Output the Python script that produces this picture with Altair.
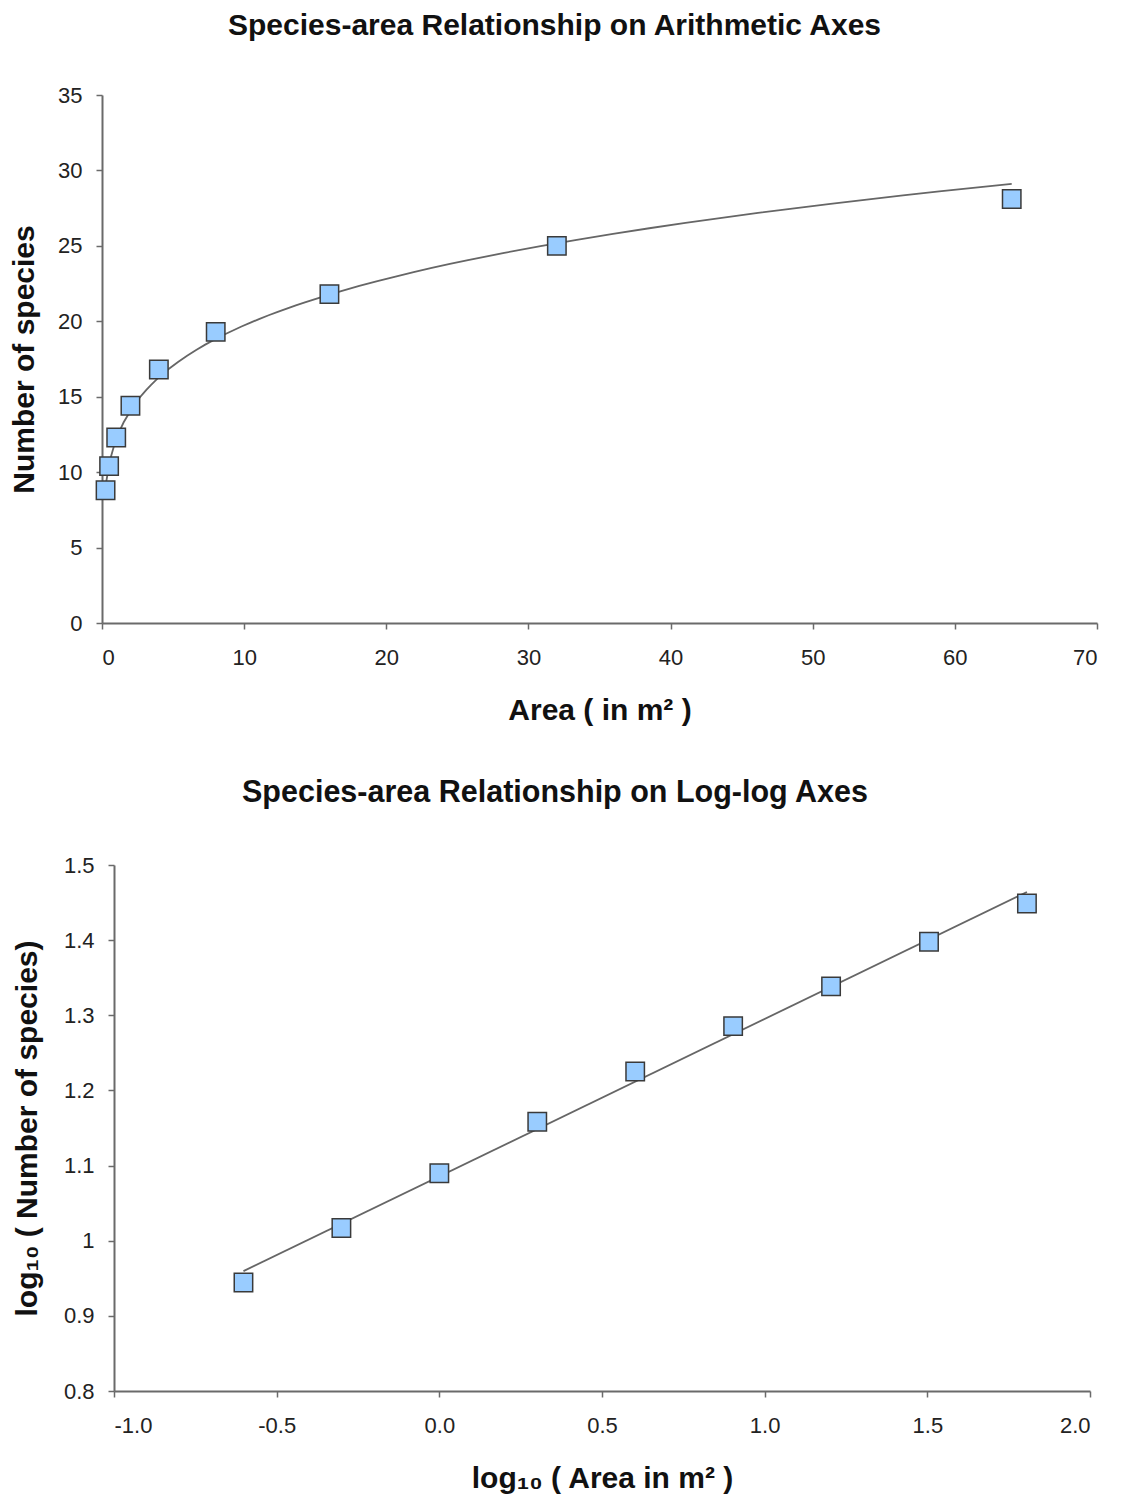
import altair as alt
import pandas as pd

# ---- data ----
area = [0.25, 0.5, 1, 2, 4, 8, 16, 32, 64]
species = [8.8, 10.4, 12.3, 14.4, 16.8, 19.3, 21.8, 25.0, 28.1]

top_x_ticks = [0, 10, 20, 30, 40, 50, 60, 70]
top_y_ticks = [0, 5, 10, 15, 20, 25, 30, 35]
bot_x_ticks = [-1.0, -0.5, 0.0, 0.5, 1.0, 1.5, 2.0]
bot_y_ticks = [0.8, 0.9, 1.0, 1.1, 1.2, 1.3, 1.4, 1.5]

df = pd.DataFrame({"area": area, "species": species})

FONT = "Liberation Sans"
FILL = "#99CCFF"
STROKE = "#3a3a3a"
LINE = "#666666"
AXIS = "#6a6a6a"


def axis(**kw):
    base = dict(
        labelFont=FONT, labelFontSize=22, labelColor="#222222",
        titleFont=FONT, titleFontSize=30, titleFontWeight="bold", titleColor="#111111",
        domainColor=AXIS, domainWidth=2, tickColor=AXIS, tickWidth=1.5, tickSize=6,
        grid=False,
    )
    base.update(kw)
    return alt.Axis(**base)


def title(text, dx, offset, size=30):
    return alt.TitleParams(
        text=text, font=FONT, fontSize=size, fontWeight="bold", color="#111111",
        anchor="middle", dx=dx, offset=offset,
    )


# invisible spacer so each panel's plot area is placed by its own axis width
def spacer(w):
    return alt.Chart(pd.DataFrame({"v": [0]})).mark_text(text="", opacity=0).encode(
        x=alt.value(0), y=alt.value(0)).properties(width=w, height=1)


# ---- top chart: arithmetic axes ----
tx = alt.X("area:Q", scale=alt.Scale(domain=[0, 70], nice=False),
           axis=axis(title="Area ( in m² )", values=top_x_ticks, labelPadding=18, titlePadding=27))
ty = alt.Y("species:Q", scale=alt.Scale(domain=[0, 35], nice=False),
           axis=axis(title="Number of species", values=top_y_ticks, labelPadding=14, titlePadding=18))

top_base = alt.Chart(df)
top_line = top_base.transform_regression("area", "species", method="pow").mark_line(
    color=LINE, strokeWidth=1.8).encode(x=tx, y=ty)
top_pts = top_base.mark_square(size=340, fill=FILL, stroke=STROKE, strokeWidth=1.5, opacity=1).encode(x=tx, y=ty)
top = alt.layer(top_line, top_pts).properties(
    width=995, height=528, title=title("Species-area Relationship on Arithmetic Axes", -45, 43))

# ---- bottom chart: log-log axes ----
bx = alt.X("lx:Q", scale=alt.Scale(domain=[-1, 2], nice=False),
           axis=axis(title="log₁₀ ( Area in m² )", values=bot_x_ticks, labelPadding=18, titlePadding=27,
                     labelExpr="replace(format(datum.value, '.1f'), '\u2212', '-')"))
by = alt.Y("ly:Q", scale=alt.Scale(domain=[0.8, 1.5], nice=False),
           axis=axis(title="log₁₀ ( Number of species)", values=bot_y_ticks, labelPadding=14, titlePadding=21,
                     format="~g"))

bot_base = alt.Chart(df).transform_calculate(
    lx="log(datum.area) / LN10", ly="log(datum.species) / LN10")
bot_line = bot_base.transform_regression("lx", "ly", method="linear").mark_line(
    color=LINE, strokeWidth=1.8).encode(x=bx, y=by)
bot_pts = bot_base.mark_square(size=340, fill=FILL, stroke=STROKE, strokeWidth=1.5, opacity=1).encode(x=bx, y=by)
bot = alt.layer(bot_line, bot_pts).properties(
    width=976, height=526, title=title("Species-area Relationship on Log-log Axes", -47, 46, 30.5))

chart = alt.vconcat(
    alt.hconcat(spacer(1), top, spacing=0),
    alt.hconcat(spacer(4), bot, spacing=0),
    spacing=52,
).properties(
    background="white", padding={"left": 0, "top": 3, "right": 5, "bottom": 5}
).configure_view(strokeWidth=0, stroke=None)

chart.save("out.html", embed_options={"renderer": "svg", "actions": False})
